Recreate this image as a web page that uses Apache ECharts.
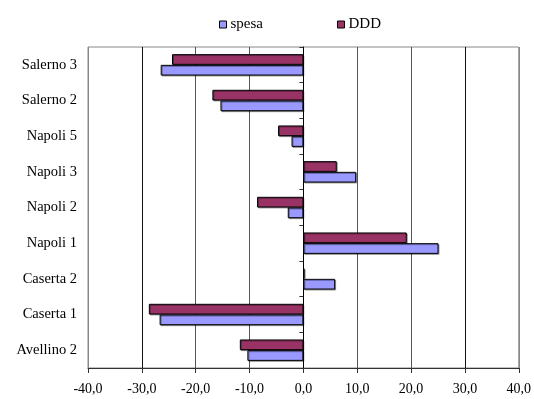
<!DOCTYPE html>
<html>
<head>
<meta charset="utf-8">
<script src="https://cdn.jsdelivr.net/npm/echarts@6/dist/echarts.min.js"></script>
<style>
  html, body { margin: 0; padding: 0; background: #fff; }
  #chart { width: 534px; height: 399px; }
</style>
</head>
<body>
<div id="chart"></div>
<script>
// Districts, listed from the bottom of the chart upwards
const categories = ['Avellino 2', 'Caserta 1', 'Caserta 2', 'Napoli 1', 'Napoli 2', 'Napoli 3', 'Napoli 5', 'Salerno 2', 'Salerno 3'];
// Percentage change in spending
const spesa = [-10.4, -26.7, 5.9, 25.1, -2.9, 9.8, -2.2, -15.4, -26.5];
// Percentage change in defined daily doses
const ddd = [-11.8, -28.7, 0.2, 19.2, -8.6, 6.2, -4.7, -16.9, -24.4];
const xTicks = [-40, -30, -20, -10, 0, 10, 20, 30, 40];

const FONT = '"Liberation Serif", "Times New Roman", serif';

const chart = echarts.init(document.getElementById('chart'), null, { renderer: 'canvas' });

const barStyle = (color) => ({
  color: color,
  borderColor: '#000',
  borderWidth: 1,
  shadowColor: 'rgba(0,0,0,0.35)',
  shadowOffsetX: 1,
  shadowOffsetY: 1
});

chart.setOption({
  animation: false,
  backgroundColor: '#fff',
  legend: {
    data: ['spesa', 'DDD'],
    top: 12,
    left: 214,
    itemWidth: 7,
    itemHeight: 7,
    itemGap: 74,
    icon: 'rect',
    textStyle: { fontFamily: FONT, fontSize: 15, color: '#000', padding: [0, 0, 0, -1] },
    itemStyle: { borderColor: '#000', borderWidth: 1 }
  },
  grid: {
    left: 88, right: 15, top: 47, bottom: 31,
    show: true,
    borderColor: '#888',
    borderWidth: 1,
    containLabel: false
  },
  xAxis: {
    type: 'value',
    min: xTicks[0],
    max: xTicks[xTicks.length - 1],
    interval: 10,
    axisLine: { show: true, onZero: false, lineStyle: { color: '#333', width: 1 } },
    axisTick: { show: true, length: 5, lineStyle: { color: '#333' } },
    splitLine: {
      show: true,
      lineStyle: {
        color: ['#888', '#111', '#555', '#555', '#111', '#555', '#555', '#111', '#888'],
        width: 1
      }
    },
    axisLabel: {
      fontFamily: FONT, fontSize: 14, color: '#000', margin: 14,
      formatter: (v) => v.toFixed(1).replace('.', ',')
    }
  },
  yAxis: [
    {
      // category names along the left edge
      type: 'category',
      data: categories,
      axisLine: { show: false, onZero: false },
      axisTick: { show: false },
      splitLine: { show: false },
      axisLabel: { fontFamily: FONT, fontSize: 14.5, color: '#000', margin: 11 }
    },
    {
      // zero line with the category tick marks
      type: 'category',
      data: categories,
      position: 'left',
      axisLine: { show: true, onZero: true, lineStyle: { color: '#000', width: 1 } },
      axisTick: { show: true, inside: false, length: 4, lineStyle: { color: '#333' } },
      axisLabel: { show: false },
      splitLine: { show: false }
    }
  ],
  series: [
    {
      name: 'DDD',
      type: 'bar',
      data: ddd,
      barWidth: 10.7,
      barGap: '0%',
      itemStyle: barStyle('#993366')
    },
    {
      name: 'spesa',
      type: 'bar',
      data: spesa,
      barWidth: 10.7,
      barGap: '0%',
      itemStyle: barStyle('#9999FF')
    }
  ]
});
</script>
</body>
</html>
